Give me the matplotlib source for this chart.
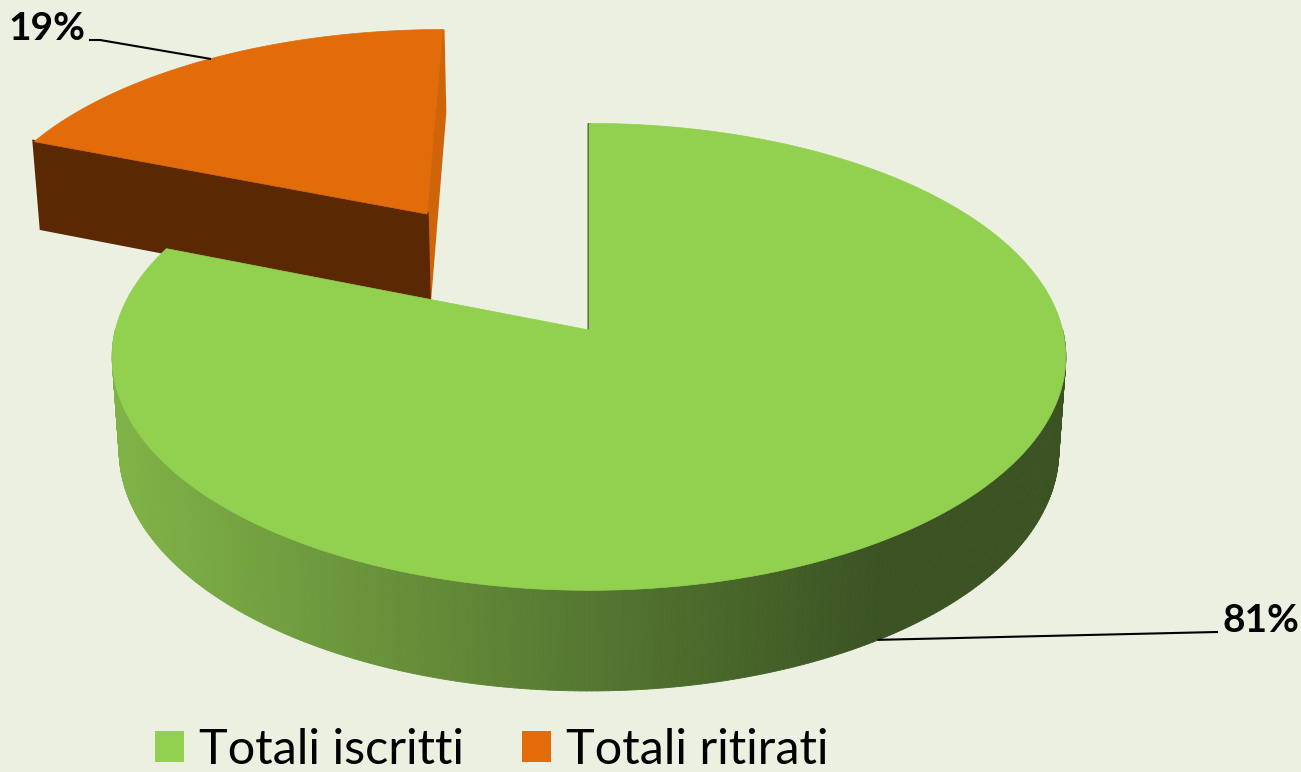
import numpy as np
import matplotlib.pyplot as plt
from matplotlib.patches import Polygon, Patch
from matplotlib.collections import PolyCollection

plt.rcParams['font.family'] = ['Lato', 'DejaVu Sans']

labels = ['Totali iscritti', 'Totali ritirati']
values = [81, 19]
pct_labels = ['81%', '19%']
top_colors = ['#92D050', '#E26B0A']
lo_face_colors = ['#3B5323', '#CF640A']   # cut face at start of ccw range
hi_face_colors = ['#3B5323', '#5A2903']   # cut face at end of ccw range
explode = [0.0, 0.646]

# simple perspective camera (pixel space)
cx, cy = 589, 330      # projected pie centre
F, D = 3600.0, 7.60
elev = np.radians(29.1)
ce, se = np.cos(elev), np.sin(elev)
H = 0.228              # pie thickness (radius units)
cam = np.array([0.0, -D * ce])


def proj(X, Y, Z):
    depth = D + Y * ce - Z * se
    return cx + F * X / depth, cy - F * (Y * se + Z * ce) / depth


def side_rgb(x):
    t = np.clip((x - 115) / (880 - 115), 0, 1)
    light = np.array([128, 179, 71]) / 255
    dark = np.array([59, 83, 35]) / 255
    return light + (dark - light) * t


fig = plt.figure(figsize=(13.01, 7.72), dpi=100)
fig.patch.set_facecolor('#EBF0E0')
ax = fig.add_axes([0, 0, 1, 1])
ax.set_xlim(0, 1301)
ax.set_ylim(772, 0)
ax.axis('off')

total = float(sum(values))
slices = []
cum = 0.0
for i, v in enumerate(values):
    hi = 90 - cum / total * 360
    lo = hi - v / total * 360
    cum += v
    slices.append((i, lo, hi))

leader_pts = []
# draw back slices first (exploded one sits behind)
for i, lo, hi in sorted(slices, key=lambda s: -explode[s[0]]):
    mid = np.radians((lo + hi) / 2)
    ox, oy = explode[i] * np.cos(mid), explode[i] * np.sin(mid)

    def rim(t, z):
        return proj(ox + np.cos(t), oy + np.sin(t), z)

    # outer wall (front half only)
    strips, cols = [], []
    for k in (0, -360):
        a0, a1 = max(lo, -180 + k), min(hi, 0 + k)
        if a1 <= a0:
            continue
        ts = np.radians(np.linspace(a0, a1, 300))
        for t1, t2 in zip(ts[:-1], ts[1:]):
            p = [rim(t1, 0), rim(t2, 0), rim(t2, -H), rim(t1, -H)]
            strips.append(p)
            cols.append(side_rgb((p[0][0] + p[1][0]) / 2))
    if strips:
        ax.add_collection(PolyCollection(strips, facecolors=cols, edgecolors=cols,
                                         linewidths=0.6))

    # radial cut faces
    rel = cam - np.array([ox, oy])
    for ang, sgn, col in ((lo, -1, lo_face_colors[i]), (hi, 1, hi_face_colors[i])):
        t = np.radians(ang)
        n = np.array([-np.sin(t), np.cos(t)]) * sgn
        if n @ rel < -1e-6:
            continue
        face = [proj(ox, oy, 0), rim(t, 0), rim(t, -H), proj(ox, oy, -H)]
        ax.add_patch(Polygon(face, closed=True, facecolor=col, edgecolor=col,
                             linewidth=2.5))

    # top face
    ts = np.radians(np.linspace(lo, hi, 400))
    top = [proj(ox, oy, 0)] + [rim(t, 0) for t in ts]
    ax.add_patch(Polygon(top, closed=True, facecolor=top_colors[i],
                         edgecolor=top_colors[i], linewidth=0.5))

    if explode[i] > 0:
        leader_pts.append((i, rim(mid, 0)))
    else:
        leader_pts.append((i, rim(mid, -H)))

# data labels with leader lines
for i, (px, py) in leader_pts:
    if explode[i] > 0:
        ax.plot([px, 100, 90], [py, 40, 40], color='black', lw=1.5)
        ax.text(85, 28, pct_labels[i], ha='right', va='center',
                fontsize=28, fontweight='bold', color='black')
    else:
        ax.plot([px, 1217], [py, 632], color='black', lw=1.5)
        ax.text(1222, 620, pct_labels[i], ha='left', va='center',
                fontsize=28, fontweight='bold', color='black')

handles = [Patch(facecolor=c, label=l) for c, l in zip(top_colors, labels)]
ax.legend(handles=handles, loc='lower left', bbox_to_anchor=(155 / 1301, 0.0),
          ncol=2, frameon=False, fontsize=35, handlelength=0.6, handleheight=0.6,
          handletextpad=0.3, columnspacing=1.2, borderpad=0, borderaxespad=0)

fig.savefig('out.png', dpi=100, facecolor=fig.get_facecolor())
